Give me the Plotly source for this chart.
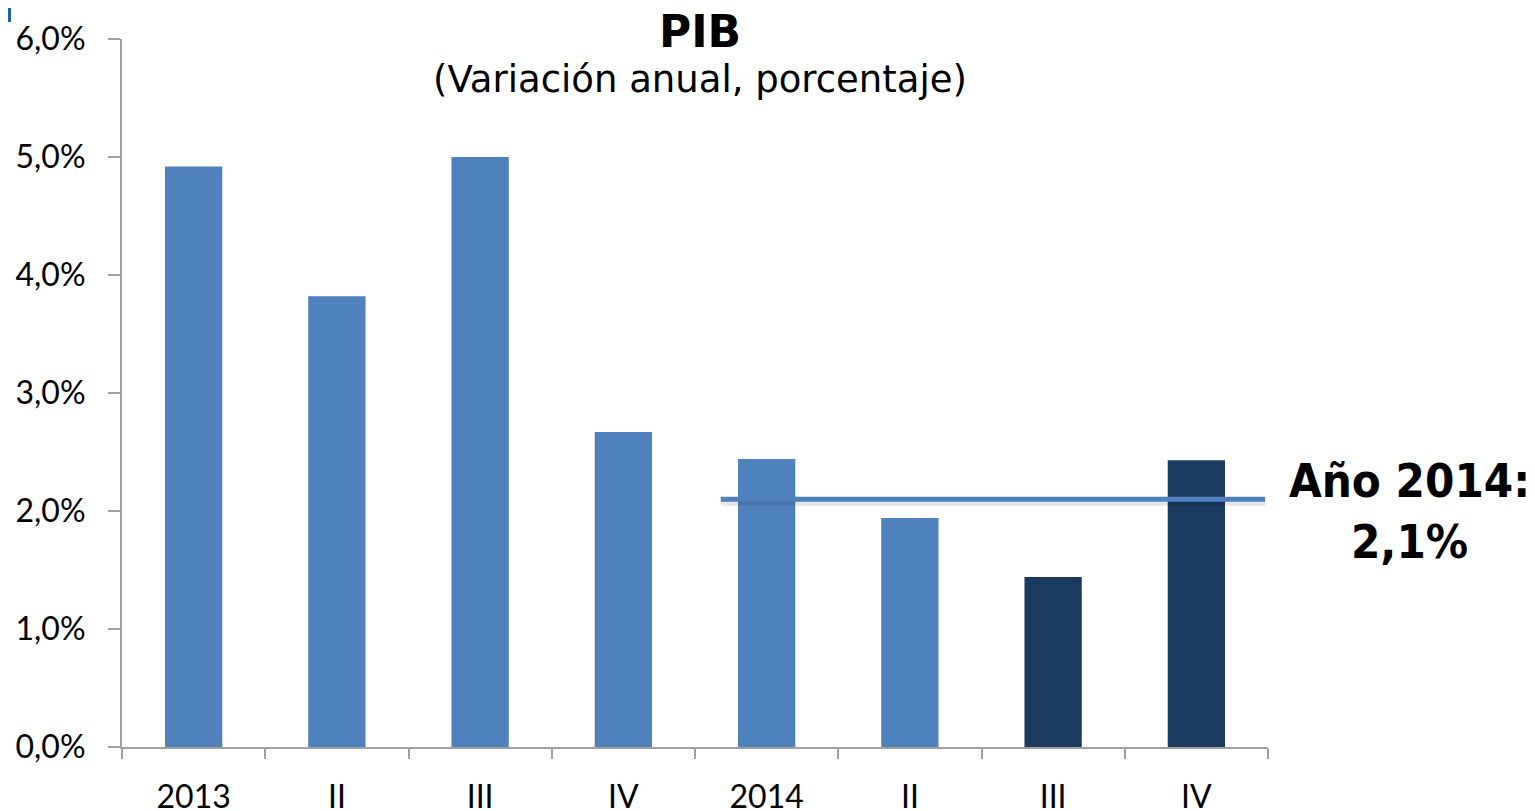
import plotly.graph_objects as go

categories = ["2013", "II", "III", "IV", "2014", "II ", "III ", "IV "]
tick_labels = ["2013", "II", "III", "IV", "2014", "II", "III", "IV"]
values = [4.92, 3.82, 5.0, 2.67, 2.44, 1.94, 1.44, 2.43]
bar_colors = ["#4F81BD"] * 6 + ["#1B3A5F"] * 2
annual_2014 = 2.1
annual_line_x = [3.68, 7.48]
y_ticks = [0, 1, 2, 3, 4, 5, 6]
y_tick_labels = ["0,0%", "1,0%", "2,0%", "3,0%", "4,0%", "5,0%", "6,0%"]

# page pixel helpers (plot area spans x 122..1268, y 39..747 on the page)
def px(x):
    return (x - 122) / 1146

def py(y):
    return (747 - y) / 708

fig = go.Figure()
fig.add_trace(go.Bar(x=categories, y=values, marker=dict(color=bar_colors, line=dict(width=0)),
                     width=0.4, showlegend=False, hoverinfo="skip"))
# soft shadow of the annual line
fig.add_trace(go.Scatter(x=annual_line_x, y=[annual_2014 - 0.035] * 2, xaxis="x2", mode="lines",
                         line=dict(color="rgba(0,0,0,0.10)", width=5), showlegend=False, hoverinfo="skip"))
fig.add_trace(go.Scatter(x=annual_line_x, y=[annual_2014] * 2, xaxis="x2", mode="lines",
                         line=dict(color="#4F81BD", width=5), showlegend=False, hoverinfo="skip"))

fig.update_layout(
    width=1527, height=803,
    margin=dict(l=114, r=267, t=31, b=64),
    plot_bgcolor="white", paper_bgcolor="white",
    font=dict(family="Lato", size=32, color="black"),
    xaxis=dict(type="category", showline=True, linecolor="#A0A0A0", linewidth=2,
               ticks="outside", tickson="boundaries", ticklen=10, tickwidth=2, tickcolor="#A0A0A0",
               tickvals=categories, ticktext=tick_labels, ticklabelstandoff=21,
               showgrid=False, range=[-0.5, 7.5], fixedrange=True, automargin=False),
    xaxis2=dict(overlaying="x", range=[-0.5, 7.5], visible=False, fixedrange=True),
    yaxis=dict(range=[0, 6], tickvals=y_ticks, ticktext=y_tick_labels, showline=True,
               linecolor="#A0A0A0", linewidth=2, ticks="outside", ticklen=12, tickwidth=2,
               tickcolor="#A0A0A0", ticklabelstandoff=16, showgrid=False, zeroline=False,
               fixedrange=True, automargin=False),
    bargap=0.6,
)
fig.add_annotation(text="<b>PIB</b>", x=px(700), y=py(32), xref="paper", yref="paper",
                   showarrow=False, xanchor="center", yanchor="middle",
                   font=dict(size=44, family="DejaVu Sans"))
fig.add_annotation(text="(Variación anual, porcentaje)", x=px(700), y=py(79),
                   xref="paper", yref="paper", showarrow=False, xanchor="center", yanchor="middle",
                   font=dict(size=37, family="DejaVu Sans"))
fig.add_annotation(text="Año 2014:<br>2,1%", x=px(1409), y=py(511), xref="paper", yref="paper",
                   showarrow=False, align="center", xanchor="center", yanchor="middle",
                   font=dict(size=47, family="DejaVu Sans Condensed", weight="bold"))
fig.add_shape(type="rect", xref="paper", yref="paper", x0=px(8), x1=px(11),
              y0=py(8), y1=py(22), fillcolor="#1F5FAF", line=dict(width=0))

fig.write_html("out.html")
